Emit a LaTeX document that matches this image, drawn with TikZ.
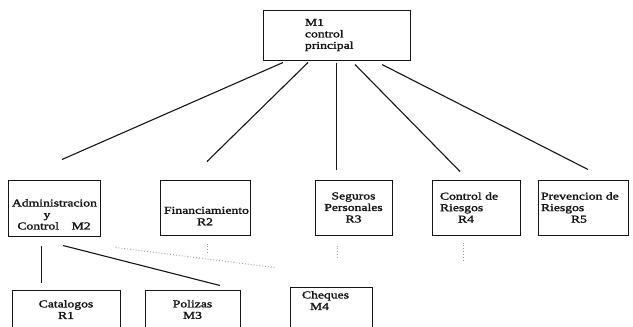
\documentclass[tikz,border=0pt]{standalone}
\usepackage{fontspec}
\usepackage{tikz}
\usetikzlibrary{positioning}
\usepackage{xcolor}
\newfontfamily\scanfont{Liberation Serif}[FakeStretch=1.3,FakeBold=2]
\definecolor{Ink}{HTML}{151515}
\definecolor{Faint}{HTML}{9A9A9A}
\tikzset{
  orgbox/.style={draw=Ink, line width=1pt, inner ysep=2pt, text=Ink,
    font=\scanfont\fontsize{10.5}{11.5}\selectfont, align=#1},
  orgbox/.default={center},
  branch/.style={draw=Ink, line width=1.1pt},
  faintlink/.style={draw=Faint, line width=0.9pt, dotted},
}
\begin{document}
\begin{tikzpicture}[x=1pt,y=-1pt]
  \useasboundingbox (0,0) rectangle (633,327);
  \clip (0,0) rectangle (633,327);
  \fill[white] (0,0) rectangle (633,327);
  % top
  \node[orgbox=left, minimum height=50pt, text width=63pt, inner xsep=42pt]
    (m1) at (336.5,35) {M1\\control\\principal};
  % second row
  \node[orgbox, minimum height=56pt, text width=84pt, inner xsep=4pt]
    (m2) at (54,208) {\rule{0pt}{20pt}Administracion\\y\hspace*{14pt}\null\\Control\hspace{1.2em}M2};
  \node[orgbox, minimum height=55pt, text width=82pt, inner xsep=4pt]
    (r2) at (205,207.5) {\rule{0pt}{24pt}Financiamiento\\R2};
  \node[orgbox, minimum height=55pt, text width=69pt, inner xsep=4pt]
    (r3) at (353.5,207.5) {Seguros\\Personales\\R3};
  \node[orgbox=left, minimum height=55pt, text width=72pt, inner xsep=8pt]
    (r4) at (476,207.5) {Control de\\Riesgos\\\hspace*{18pt}R4};
  \node[orgbox=left, minimum height=55pt, text width=84pt, inner xsep=3pt]
    (r5) at (583,207.5) {Prevencion de\\Riesgos\\\hspace*{30pt}R5};
  % third row
  \node[orgbox, minimum height=39pt, text width=100pt, inner xsep=4pt]
    (r1) at (66,309.5) {Catalogos\\R1};
  \node[orgbox, minimum height=39pt, text width=87pt, inner xsep=4pt]
    (m3) at (192.5,309.5) {Polizas\\M3};
  \node[orgbox=left, minimum height=42pt, text width=58pt, inner xsep=12pt]
    (m4) at (331,308) {Cheques\\\hspace*{8pt}M4\rule[-15pt]{0pt}{15pt}};
  % branches from the top box
  \draw[branch] ([xshift=-53.5pt,yshift=-2pt]m1.south) -- ([xshift=8pt,yshift=20pt]m2.north);
  \draw[branch] ([xshift=-28.5pt,yshift=-2pt]m1.south) -- ([xshift=2pt,yshift=18pt]r2.north);
  \draw[branch] ([xshift=0pt,yshift=-2pt]m1.south) -- ([xshift=-17pt,yshift=10pt]r3.north);
  \draw[branch] ([xshift=18.5pt,yshift=-4pt]m1.south) -- ([xshift=-16pt,yshift=8pt]r4.north);
  \draw[branch] ([xshift=45.5pt,yshift=-4pt]m1.south) -- ([xshift=5pt,yshift=10pt]r5.north);
  % branches from M2
  \draw[branch] ([xshift=-12.5pt,yshift=-9pt]m2.south) -- ([xshift=-24.5pt,yshift=7pt]r1.north);
  \draw[branch] ([xshift=9pt,yshift=-9pt]m2.south) -- ([xshift=27.5pt,yshift=4pt]m3.north);
  % faint dotted traces
  \draw[faintlink] ([xshift=15pt,yshift=-11pt]m2.south east) -- ([xshift=-15pt,yshift=19pt]m4.north west);
  \draw[faintlink] ([xshift=2pt,yshift=-8pt]r2.south) -- ([xshift=2pt,yshift=-17pt]r2.south);
  \draw[faintlink] ([xshift=-16.5pt,yshift=-10pt]r3.south) -- ([xshift=-16.5pt,yshift=-23pt]r3.south);
  \draw[faintlink] ([xshift=-13pt,yshift=-7pt]r4.south) -- ([xshift=-13pt,yshift=-27pt]r4.south);
\end{tikzpicture}
\end{document}
